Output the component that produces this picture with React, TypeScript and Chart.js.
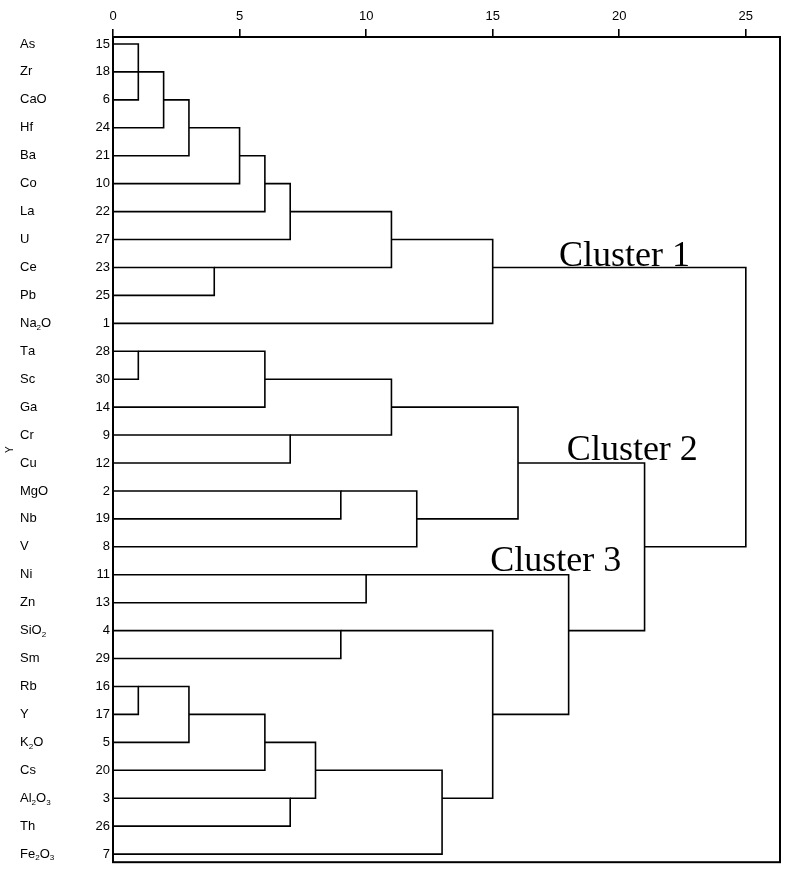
import React, { useEffect, useRef } from "react";
import { Chart, registerables } from "chart.js";

Chart.register(...registerables);

// Leaves (top to bottom) and their case numbers
const elementNames = [
  "As", "Zr", "CaO", "Hf", "Ba", "Co", "La", "U", "Ce", "Pb", "Na₂O",
  "Ta", "Sc", "Ga", "Cr", "Cu", "MgO", "Nb", "V",
  "Ni", "Zn", "SiO₂", "Sm", "Rb", "Y", "K₂O", "Cs", "Al₂O₃", "Th", "Fe₂O₃",
];
const caseNumbers = [
  15, 18, 6, 24, 21, 10, 22, 27, 23, 25, 1,
  28, 30, 14, 9, 12, 2, 19, 8,
  11, 13, 4, 29, 16, 17, 5, 20, 3, 26, 7,
];

const xTickValues = [0, 5, 10, 15, 20, 25];

// Merges: rescaled distance, row where the merged node continues, children (L = leaf row, M = merge)
const mergeHeights = [1, 2, 3, 5, 6, 7, 4, 11, 15, 1, 6, 7, 11, 9, 12, 16, 10, 9, 1, 3, 6, 7, 8, 13, 15, 18, 21, 25];
const mergeRows = [1, 2, 3, 4, 5, 6, 8, 7, 8, 11, 12, 14, 13, 16, 17, 15, 19, 21, 23, 24, 25, 27, 26, 27, 24, 21, 18, 13];
const mergeChildren = [
  ["L0", "L1", "L2"], ["M0", "L3"], ["M1", "L4"], ["M2", "L5"], ["M3", "L6"], ["M4", "L7"],
  ["L8", "L9"], ["M5", "M6"], ["M7", "L10"],
  ["L11", "L12"], ["M9", "L13"], ["L14", "L15"], ["M10", "M11"], ["L16", "L17"], ["M13", "L18"], ["M12", "M14"],
  ["L19", "L20"], ["L21", "L22"], ["L23", "L24"], ["M18", "L25"], ["M19", "L26"], ["L27", "L28"],
  ["M20", "M21"], ["M22", "L29"], ["M17", "M23"], ["M16", "M24"], ["M15", "M25"], ["M8", "M26"],
];

// Annotation texts and anchors (distance, row)
const clusterLabels = ["Cluster 1", "Cluster 2", "Cluster 3"];
const clusterLabelX = [17.62, 17.93, 14.9];
const clusterLabelRow = [7.93, 14.9, 18.86];

const SANS = "'Liberation Sans', Arial, sans-serif";
const SERIF = "'Liberation Serif', 'Times New Roman', serif";
const SUBS = "₀₁₂₃₄₅₆₇₈₉";

function resolveChild(id: string) {
  const idx = parseInt(id.slice(1), 10);
  if (id[0] === "L") return { row: idx, from: 0 };
  return { row: mergeRows[idx], from: mergeHeights[idx] };
}

function buildDatasets() {
  const sets: any[] = [];
  const style = {
    showLine: true,
    borderColor: "#000",
    borderWidth: 1.6,
    pointRadius: 0,
    pointHoverRadius: 0,
    fill: false,
    tension: 0,
  };
  mergeChildren.forEach((kids, j) => {
    const h = mergeHeights[j];
    const pts = kids.map(resolveChild).sort((a, b) => a.row - b.row);
    const first = pts[0];
    const last = pts[pts.length - 1];
    sets.push({
      ...style,
      data: [
        { x: first.from, y: first.row },
        { x: h, y: first.row },
        { x: h, y: last.row },
        { x: last.from, y: last.row },
      ],
    });
    pts.slice(1, -1).forEach((p) => {
      sets.push({ ...style, data: [{ x: p.from, y: p.row }, { x: h, y: p.row }] });
    });
  });
  return sets;
}

function drawRich(ctx: CanvasRenderingContext2D, text: string, x: number, y: number, size: number) {
  let cx = x;
  for (const ch of text) {
    const s = SUBS.indexOf(ch);
    if (s >= 0) {
      const sub = size * 0.62;
      ctx.font = `${sub}px ${SANS}`;
      ctx.fillText(String(s), cx, y + size * 0.32);
      cx += ctx.measureText(String(s)).width;
    } else {
      ctx.font = `${size}px ${SANS}`;
      ctx.fillText(ch, cx, y);
      cx += ctx.measureText(ch).width;
    }
  }
}

const dendroPlugin = {
  id: "dendroDecor",
  afterDraw(chart: any) {
    const { ctx, chartArea, scales } = chart;
    const xs = scales.x;
    const ys = scales.y;
    ctx.save();
    // frame
    ctx.strokeStyle = "#000";
    ctx.lineWidth = 2;
    ctx.strokeRect(chartArea.left, chartArea.top, chartArea.right - chartArea.left, chartArea.bottom - chartArea.top);
    // element names
    ctx.fillStyle = "#000";
    ctx.textAlign = "left";
    ctx.textBaseline = "middle";
    elementNames.forEach((name, i) => {
      drawRich(ctx, name, 20, ys.getPixelForValue(i), 13);
    });
    // cluster labels
    ctx.font = `36px ${SERIF}`;
    ctx.textBaseline = "alphabetic";
    clusterLabels.forEach((t, k) => {
      ctx.fillText(t, xs.getPixelForValue(clusterLabelX[k]), ys.getPixelForValue(clusterLabelRow[k]));
    });
    ctx.restore();
  },
};

export default function App() {
  const ref = useRef<HTMLCanvasElement | null>(null);
  useEffect(() => {
    if (!ref.current) return;
    const chart = new Chart(ref.current, {
      type: "scatter",
      data: { datasets: buildDatasets() },
      options: {
        animation: false,
        responsive: true,
        maintainAspectRatio: false,
        layout: { padding: { left: 0, top: 0, right: 9, bottom: 9 } },
        plugins: { legend: { display: false }, tooltip: { enabled: false } },
        events: [],
        scales: {
          x: {
            type: "linear",
            position: "top",
            min: 0,
            max: 26.35,
            afterBuildTicks: (s: any) => {
              s.ticks = xTickValues.map((v) => ({ value: v }));
            },
            afterFit: (s: any) => {
              s.height = 37;
            },
            ticks: {
              color: "#000",
              padding: 5,
              font: { family: SANS, size: 13 },
              maxRotation: 0,
              autoSkip: false,
            },
            grid: {
              drawOnChartArea: false,
              drawTicks: true,
              tickLength: 8,
              color: "#000",
              lineWidth: 1.6,
            },
            border: { display: false },
          },
          y: {
            type: "linear",
            min: -0.25,
            max: 29.29,
            reverse: true,
            afterBuildTicks: (s: any) => {
              s.ticks = caseNumbers.map((_, i) => ({ value: i }));
            },
            afterFit: (s: any) => {
              s.width = 113;
            },
            ticks: {
              autoSkip: false,
              color: "#000",
              padding: 3,
              font: { family: SANS, size: 13 },
              callback: (v: any) => String(caseNumbers[Math.round(Number(v))]),
            },
            grid: { display: false, drawTicks: false },
            border: { display: false },
            title: {
              display: true,
              text: "Y",
              color: "#000",
              font: { family: SANS, size: 10 },
              padding: 4,
            },
          },
        },
      },
      plugins: [dendroPlugin],
    } as any);
    return () => chart.destroy();
  }, []);

  return (
    <div style={{ position: "absolute", left: 0, top: 0, width: 789, height: 873, background: "#fff" }}>
      <canvas ref={ref} />
    </div>
  );
}
